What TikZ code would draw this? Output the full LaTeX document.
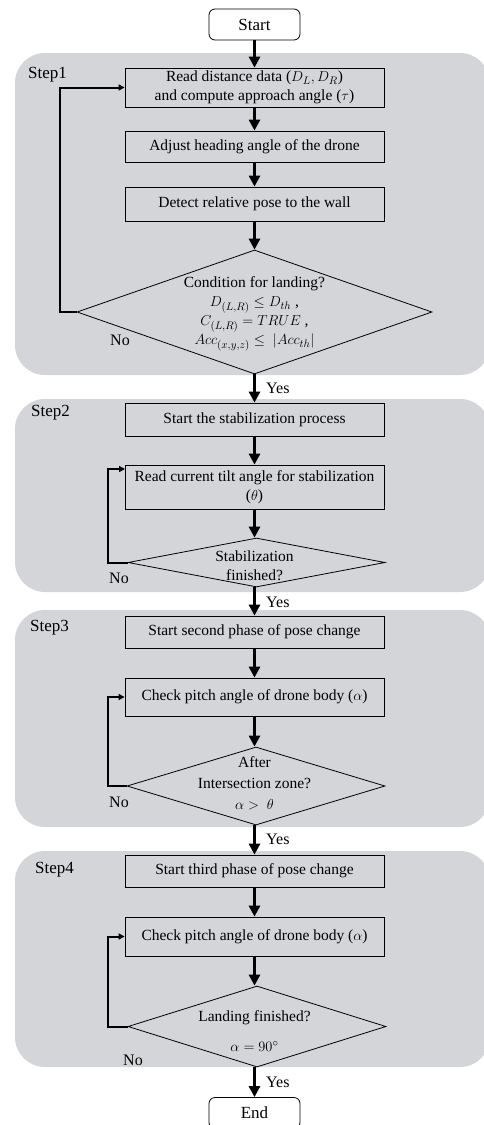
\documentclass[tikz,border=0pt]{standalone}
\usepackage{fontspec}
\setmainfont{Liberation Serif}
\usetikzlibrary{arrows.meta,shapes.geometric}
\definecolor{panelgray}{RGB}{212,213,216}
\begin{document}
\begin{tikzpicture}[x=1pt,y=-1pt,
  panel/.style={fill=panelgray, draw=none, rounded corners=30pt},
  proc/.style={draw=black, line width=0.8pt, minimum width=259pt, inner sep=0pt, align=center, font=\fontsize{15.5}{18.5}\selectfont},
  dec/.style={diamond, draw=black, line width=0.8pt, inner sep=0pt},
  dectext/.style={align=center, inner sep=0pt, font=\fontsize{15.5}{19}\selectfont},
  term/.style={draw=black, line width=0.8pt, rounded corners=6pt, fill=white, minimum width=91pt, minimum height=31pt, inner sep=0pt, font=\fontsize{17}{20}\selectfont},
  flow/.style={line width=3pt, -{Triangle[length=11pt,width=11pt]}},
  loopback/.style={line width=2pt, -{Triangle[length=6pt,width=6pt]}},
  steplabel/.style={anchor=west, inner sep=0pt, font=\fontsize{17}{20}\selectfont},
  lab/.style={anchor=west, inner sep=0pt, font=\fontsize{16}{19}\selectfont}
]
\useasboundingbox (0,0) rectangle (484,1125);
\clip (0,0) rectangle (484,1125);
\fill[white] (0,0) rectangle (484,1125);

% panels
\fill[panelgray, rounded corners=30pt] (15,53) rectangle (490,375);
\fill[panelgray, rounded corners=30pt] (15,399) rectangle (490,592);
\fill[panelgray, rounded corners=30pt] (15,610) rectangle (490,827);
\fill[panelgray, rounded corners=30pt] (15,851) rectangle (490,1067);

% step labels
\node[steplabel] (s1) at (28,75) {Step1};
\node[steplabel] (s2) at (31,413) {Step2};
\node[steplabel] (s3) at (30,628) {Step3};
\node[steplabel] (s4) at (35,870) {Step4};

% nodes
\node[term] (start) at (254.5,24.5) {Start};
\node[proc, minimum height=39pt] (b1) at (254.5,87.5) {Read distance data ($D_L, D_R$)\\and compute approach angle ($\tau$)};
\node[proc, minimum height=31pt] (b2) at (254.5,146.5) {Adjust heading angle of the drone};
\node[proc, minimum height=34pt] (b3) at (254.5,204) {Detect relative pose to the wall};
\node[dec, minimum width=355pt, minimum height=124pt] (d1) at (254.5,312) {};
\node[dectext] (t1) at (254.5,314) {Condition for landing?\\$D_{(L,R)} \le D_{th}$ ,\\$C_{(L,R)} = TRUE$ ,\\$Acc_{(x,y,z)} \le\ |Acc_{th}|$};

\node[proc, minimum height=33pt] (b4) at (254.5,419.5) {Start the stabilization process};
\node[proc, minimum height=44pt] (b5) at (254.5,487) {Read current tilt angle for stabilization\\($\theta$)};
\node[dec, minimum width=257pt, minimum height=49pt] (d2) at (256.5,562.5) {};
\node[dectext] (t2) at (254.5,566) {Stabilization\\finished?};

\node[proc, minimum height=32pt] (b6) at (254.5,632) {Start second phase of pose change};
\node[proc, minimum height=38pt] (b7) at (254.5,697) {Check pitch angle of drone body ($\alpha$)};
\node[dec, minimum width=258pt, minimum height=78pt] (d3) at (256,786) {};
\node[dectext, font=\fontsize{15.5}{21}\selectfont] (t3) at (254.5,783) {After\\Intersection zone?\\$\alpha >\ \theta$};

\node[proc, minimum height=32pt] (b8) at (254.5,871) {Start third phase of pose change};
\node[proc, minimum height=39pt] (b9) at (254.5,936.5) {Check pitch angle of drone body ($\alpha$)};
\node[dec, minimum width=258pt, minimum height=81pt] (d4) at (257,1026.5) {};
\node[dectext, font=\fontsize{15.5}{30}\selectfont] (t4) at (254.5,1031) {Landing finished?\\$\alpha = 90^\circ$};

\node[term] (end) at (254.5,1113) {End};

% main flow
\draw[flow] (start) -- (b1);
\draw[flow] (b1) -- (b2);
\draw[flow] (b2) -- (b3);
\draw[flow] (b3) -- (b3 |- d1.north);
\draw[flow] (b3 |- d1.south) -- (b4);
\draw[flow] (b4) -- (b5);
\draw[flow] (b5) -- (b5 |- d2.north);
\draw[flow] (b5 |- d2.south) -- (b6);
\draw[flow] (b6) -- (b7);
\draw[flow] (b7) -- (b7 |- d3.north);
\draw[flow] (b7 |- d3.south) -- (b8);
\draw[flow] (b8) -- (b9);
\draw[flow] (b9) -- (b9 |- d4.north);
\draw[flow] (b9 |- d4.south) -- (end);

% loops
\coordinate (x1) at (60,0);
\coordinate (x2) at (108,0);
\coordinate (e2) at (125,469);
\draw[loopback] (d1.west) -- (d1.west -| x1) |- (b1.west);
\draw[loopback] (d2.west) -- (d2.west -| x2) |- (e2);
\draw[loopback] (d3.west) -- (d3.west -| x2) |- (b7.west);
\draw[loopback] (d4.west) -- (d4.west -| x2) |- (b9.west);

% labels
\node[lab] (no1) at (110,340) {No};
\node[lab] (no2) at (109,578) {No};
\node[lab] (no3) at (109,802) {No};
\node[lab] (no4) at (123,1060) {No};
\node[lab] (y1) at (266,388) {Yes};
\node[lab] (y2) at (266,602) {Yes};
\node[lab] (y3) at (266,839) {Yes};
\node[lab] (y4) at (266,1082) {Yes};
\end{tikzpicture}
\end{document}
